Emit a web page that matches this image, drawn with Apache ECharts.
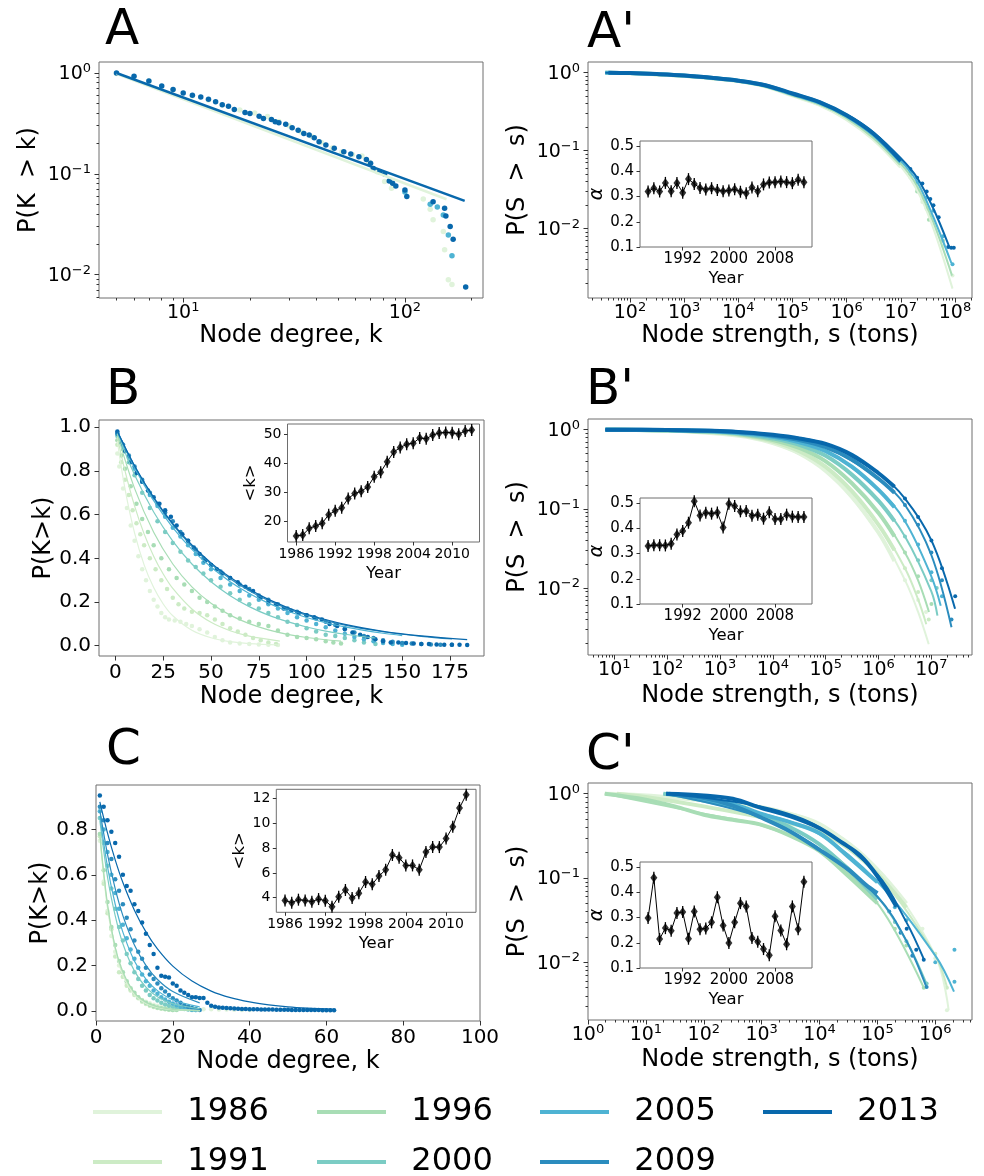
<!DOCTYPE html>
<html><head><meta charset="utf-8">
<script src="https://cdn.jsdelivr.net/npm/echarts@6/dist/echarts.min.js"></script>
<style>html,body{margin:0;padding:0;background:#fff}#c{width:984px;height:1176px}</style>
</head><body><div id="c"></div><script>
const FONT = 'DejaVu Sans';
const YEARS = ['1986','1991','1996','2000','2005','2009','2013'];
const COLORS = {'1986':'#e0f3db','1991':'#ccebc5','1996':'#a8ddb5','2000':'#7bccc4','2005':'#4eb3d3','2009':'#2b8cbe','2013':'#0868ac'};

// ---------- inset data ----------
const INSET_YEARS = [1986,1987,1988,1989,1990,1991,1992,1993,1994,1995,1996,1997,1998,1999,2000,2001,2002,2003,2004,2005,2006,2007,2008,2009,2010,2011,2012,2013];
const B_INSET_K = [15.1,15.4,17.7,18.5,19.5,22.4,23.8,24.8,28.0,29.7,30.5,32.0,35.5,37.1,40.7,44.0,45.6,46.7,47.1,48.9,48.6,49.9,50.6,50.8,50.7,50.2,51.3,51.6];
const C_INSET_K = [3.78,3.60,3.84,3.78,3.68,3.89,3.76,3.27,4.08,4.62,3.97,4.35,5.27,5.08,5.75,6.26,7.45,7.23,6.61,6.61,6.26,7.69,8.09,8.09,8.79,9.73,11.25,12.32];
const AP_ALPHA = [0.320,0.333,0.320,0.354,0.321,0.354,0.315,0.369,0.350,0.334,0.328,0.333,0.326,0.321,0.324,0.329,0.319,0.313,0.336,0.321,0.348,0.356,0.357,0.360,0.357,0.353,0.366,0.357];
const BP_ALPHA = [0.330,0.333,0.333,0.332,0.339,0.375,0.389,0.422,0.507,0.451,0.462,0.458,0.463,0.403,0.497,0.488,0.467,0.468,0.450,0.454,0.438,0.464,0.437,0.437,0.454,0.446,0.445,0.445];
const CP_ALPHA = [0.298,0.458,0.215,0.258,0.248,0.318,0.322,0.216,0.324,0.254,0.257,0.281,0.380,0.268,0.199,0.281,0.357,0.344,0.219,0.204,0.175,0.151,0.305,0.249,0.194,0.344,0.254,0.442];

// ---------- tick labels ----------
const A_XTICKS = [10,100];
const DEC_YTICKS = [0.01,0.1,1];
const AP_XTICKS = [1e2,1e3,1e4,1e5,1e6,1e7,1e8];
const BP_XTICKS = [1e1,1e2,1e3,1e4,1e5,1e6,1e7];
const CP_XTICKS = [1,1e1,1e2,1e3,1e4,1e5,1e6];
const B_XTICKS = [0,25,50,75,100,125,150,175];
const C_XTICKS = [0,20,40,60,80,100];
const P_YTICKS_B = [0,0.2,0.4,0.6,0.8,1.0];
const P_YTICKS_C = [0,0.2,0.4,0.6,0.8];
const B_INSET_YTICKS = [20,30,40,50];
const C_INSET_YTICKS = [4,6,8,10,12];
const K_INSET_XTICKS = [1986,1992,1998,2004,2010];
const ALPHA_YTICKS = [0.1,0.2,0.3,0.4,0.5];
const ALPHA_XTICKS = [1992,2000,2008];

// ---------- panel A ----------
const A_DOTS_1986 = [[5,0.99],[7,0.83],[9,0.68],[11,0.59],[13,0.54],[15,0.48],[18,0.43],[21,0.40],[24,0.37],[27,0.33],[30,0.30],[34,0.26],[38,0.235],[42,0.205],[47,0.18],[52,0.165],[58,0.155],[64,0.15],[69,0.13],[75,0.105],[81,0.084],[87,0.072],[121,0.0564],[130,0.0446],[134,0.035],[149,0.0268],[151,0.0177],[157,0.0089],[163,0.008]];
const A_DOTS_2005 = [[100,0.066],[130,0.05],[140,0.047],[149,0.039],[157,0.0248],[163,0.0154]];
const A_DOTS_2013 = [[5,1.0],[6,0.927],[7,0.834],[8,0.744],[9,0.684],[10,0.634],[11,0.601],[12,0.579],[13,0.549],[14,0.517],[15,0.483],[16,0.468],[17,0.434],[19,0.406],[20,0.396],[22,0.373],[23,0.354],[25,0.346],[26,0.328],[27,0.321],[29,0.311],[31,0.286],[33,0.271],[35,0.251],[37,0.242],[39,0.228],[41,0.208],[44,0.193],[48,0.179],[53,0.166],[57,0.157],[62,0.148],[67,0.139],[70,0.127],[72,0.113],[77,0.105],[81,0.0996],[85,0.085],[88,0.0805],[91,0.0759],[100,0.0692],[102,0.0595],[134,0.053],[151,0.0456],[153,0.0383],[160,0.030],[165,0.0225],[188,0.00755]];
const A_FIT_1986 = [[5,0.98],[154,0.056]];
const A_FIT_2013 = [[5,1.0],[186,0.054]];

// ---------- panel B ----------
const B_DOTS_1986 = [[1,0.88],[2,0.82],[4,0.72],[6,0.63],[8,0.55],[10,0.48],[12,0.41],[14,0.35],[16,0.30],[18,0.25],[20,0.21],[22,0.18],[24,0.15],[26,0.13],[28,0.12],[31,0.115],[34,0.11],[37,0.10],[40,0.09],[44,0.075],[48,0.06],[52,0.04],[56,0.025],[60,0.015],[65,0.01],[70,0.008],[75,0.006],[80,0.004],[85,0.003]];
const B_DOTS_1991 = [[1,0.92],[3,0.84],[5,0.76],[7,0.69],[9,0.62],[11,0.56],[13,0.51],[15,0.46],[18,0.40],[21,0.35],[24,0.30],[27,0.26],[30,0.22],[33,0.19],[36,0.17],[40,0.155],[44,0.15],[48,0.14],[52,0.12],[56,0.10],[60,0.08],[64,0.065],[68,0.05],[72,0.035],[76,0.025],[80,0.015],[84,0.008]];
const B_DOTS_1996 = [[1,0.94],[3,0.87],[5,0.81],[8,0.73],[11,0.65],[14,0.58],[17,0.52],[20,0.46],[24,0.40],[28,0.35],[32,0.31],[36,0.28],[40,0.25],[44,0.22],[48,0.20],[52,0.18],[56,0.16],[60,0.14],[65,0.125],[70,0.11],[75,0.10],[80,0.09],[85,0.07],[90,0.05],[95,0.04],[100,0.035],[105,0.03],[110,0.02],[114,0.015],[118,0.01]];
const B_DOTS_2000 = [[1,0.96],[4,0.90],[7,0.84],[10,0.78],[14,0.70],[18,0.63],[22,0.57],[26,0.52],[30,0.47],[34,0.43],[38,0.39],[42,0.36],[46,0.33],[50,0.30],[55,0.27],[60,0.24],[65,0.21],[70,0.19],[75,0.17],[80,0.15],[85,0.13],[90,0.11],[95,0.095],[100,0.08],[105,0.065],[110,0.05],[115,0.045],[120,0.035],[125,0.025],[130,0.015],[136,0.008]];
const B_DOTS_2005 = [[1,0.97],[4,0.91],[7,0.86],[10,0.81],[14,0.75],[18,0.69],[22,0.64],[26,0.59],[30,0.54],[34,0.50],[38,0.46],[42,0.42],[46,0.38],[50,0.35],[55,0.31],[60,0.28],[65,0.25],[70,0.23],[75,0.21],[80,0.19],[85,0.17],[90,0.15],[95,0.13],[100,0.115],[105,0.10],[110,0.085],[115,0.07],[120,0.055],[125,0.04],[130,0.03],[135,0.02],[140,0.012],[145,0.008],[150,0.004]];
const B_DOTS_2009 = [[1,0.97],[4,0.92],[7,0.87],[10,0.82],[14,0.76],[18,0.70],[22,0.65],[26,0.61],[30,0.57],[34,0.52],[38,0.48],[42,0.44],[46,0.40],[50,0.37],[55,0.34],[60,0.31],[65,0.28],[70,0.26],[75,0.23],[80,0.21],[85,0.19],[90,0.17],[95,0.155],[100,0.14],[105,0.125],[110,0.11],[115,0.095],[120,0.08],[125,0.06],[130,0.045],[135,0.035],[140,0.025],[145,0.018],[150,0.012],[155,0.01],[160,0.008],[165,0.006],[170,0.005],[176,0.004]];
const B_DOTS_2013 = [[1,0.98],[3,0.93],[5,0.89],[8,0.84],[11,0.79],[14,0.75],[17,0.71],[20,0.68],[23,0.65],[26,0.62],[29,0.59],[32,0.55],[35,0.51],[38,0.48],[41,0.45],[44,0.42],[47,0.39],[50,0.37],[53,0.35],[56,0.33],[60,0.31],[64,0.29],[68,0.27],[72,0.25],[76,0.22],[80,0.20],[84,0.19],[88,0.17],[92,0.16],[96,0.15],[100,0.14],[104,0.13],[108,0.12],[112,0.10],[116,0.09],[120,0.075],[124,0.06],[128,0.05],[132,0.04],[136,0.03],[140,0.02],[144,0.015],[148,0.015],[152,0.012],[156,0.01],[160,0.008],[164,0.008],[168,0.006],[172,0.005],[176,0.005],[180,0.004],[184,0.003]];
const B_FIT_1986 = [[1,0.936],[5,0.718],[10,0.516],[15,0.370],[20,0.266],[25,0.191],[30,0.137],[40,0.0707],[50,0.0365],[60,0.0188],[70,0.0097],[86,0.0034]];
const B_FIT_1991 = [[1,0.956],[5,0.80],[10,0.640],[15,0.512],[20,0.410],[25,0.328],[30,0.262],[40,0.168],[50,0.107],[60,0.0687],[70,0.044],[86,0.0215]];
const B_FIT_1996 = [[1,0.968],[10,0.720],[20,0.519],[30,0.374],[40,0.269],[50,0.194],[60,0.140],[70,0.101],[80,0.0726],[90,0.0523],[100,0.0377],[118,0.0209]];
const B_FIT_2000 = [[1,0.976],[10,0.782],[20,0.612],[30,0.479],[40,0.374],[50,0.293],[60,0.229],[70,0.179],[80,0.140],[90,0.110],[100,0.0857],[110,0.067],[120,0.0525],[136,0.0354]];
const B_FIT_2005 = [[1,0.980],[10,0.815],[20,0.664],[30,0.541],[40,0.441],[50,0.360],[60,0.293],[70,0.239],[80,0.195],[90,0.159],[100,0.129],[110,0.105],[120,0.086],[130,0.070],[140,0.057],[150,0.0466]];
const B_FIT_2009 = [[1,0.981],[10,0.821],[20,0.675],[30,0.554],[40,0.455],[50,0.374],[60,0.307],[70,0.252],[80,0.207],[90,0.170],[100,0.140],[120,0.094],[140,0.064],[160,0.043],[176,0.031]];
const B_FIT_2013 = [[1,0.981],[10,0.824],[20,0.679],[30,0.559],[40,0.461],[50,0.379],[60,0.313],[70,0.258],[80,0.212],[90,0.175],[100,0.144],[120,0.098],[140,0.066],[160,0.045],[184,0.028]];

// ---------- panel C ----------
const C_DOTS_1986 = [[1,0.75],[2,0.57],[3,0.44],[4,0.33],[5,0.26],[6,0.20],[7,0.15],[8,0.12],[9,0.095],[10,0.075],[11,0.06],[12,0.048],[13,0.04],[14,0.033],[15,0.027],[16,0.022],[17,0.018],[18,0.015],[19,0.013],[20,0.011],[22,0.01],[24,0.009],[26,0.008],[28,0.007],[30,0.007],[32,0.006],[34,0.006],[36,0.005],[38,0.004],[40,0.003]];
const C_DOTS_1991 = [[1,0.77],[2,0.56],[3,0.43],[4,0.36],[5,0.24],[6,0.17],[7,0.15],[8,0.11],[9,0.09],[10,0.07],[11,0.055],[12,0.04],[13,0.03],[14,0.022],[15,0.017],[16,0.012],[17,0.009],[18,0.007],[19,0.005],[20,0.004]];
const C_DOTS_1996 = [[1,0.78],[2,0.62],[3,0.48],[4,0.37],[5,0.29],[6,0.22],[7,0.17],[8,0.13],[9,0.10],[10,0.08],[11,0.06],[12,0.045],[13,0.035],[14,0.027],[15,0.02],[16,0.015],[17,0.011],[18,0.008],[19,0.006],[20,0.004],[21,0.003]];
const C_DOTS_2000 = [[1,0.85],[2,0.74],[3,0.64],[4,0.54],[5,0.45],[6,0.37],[7,0.31],[8,0.25],[9,0.21],[10,0.17],[11,0.14],[12,0.11],[13,0.09],[14,0.07],[15,0.055],[16,0.045],[17,0.035],[18,0.028],[19,0.022],[20,0.017],[21,0.013],[22,0.01],[23,0.008],[24,0.006],[25,0.004],[26,0.003]];
const C_DOTS_2005 = [[1,0.88],[2,0.80],[3,0.70],[4,0.60],[5,0.52],[6,0.45],[7,0.38],[8,0.32],[9,0.27],[10,0.23],[11,0.19],[12,0.16],[13,0.13],[14,0.11],[15,0.09],[16,0.075],[17,0.06],[18,0.05],[19,0.04],[20,0.032],[21,0.025],[22,0.018],[23,0.012],[24,0.008],[25,0.005],[26,0.003]];
const C_DOTS_2009 = [[1,0.90],[2,0.84],[3,0.74],[4,0.67],[5,0.58],[6,0.53],[7,0.47],[8,0.41],[9,0.36],[10,0.31],[11,0.26],[12,0.23],[13,0.19],[14,0.16],[15,0.14],[16,0.12],[17,0.10],[18,0.085],[19,0.07],[20,0.055],[21,0.045],[22,0.035],[23,0.025],[24,0.018],[25,0.012],[26,0.008],[27,0.004]];
const C_DOTS_2013 = [[1,0.95],[2,0.90],[3,0.84],[4,0.79],[5,0.74],[6,0.68],[7,0.60],[8,0.55],[9,0.53],[10,0.47],[11,0.44],[12,0.39],[13,0.34],[14,0.29],[15,0.25],[16,0.19],[17,0.155],[18,0.15],[19,0.147],[20,0.12],[21,0.11],[22,0.09],[23,0.08],[24,0.07],[25,0.06],[26,0.06],[27,0.057],[28,0.057],[29,0.035],[30,0.022],[31,0.018],[32,0.015],[33,0.013],[34,0.012],[35,0.011],[36,0.010],[37,0.009],[38,0.008],[39,0.008],[40,0.007],[41,0.007],[42,0.007],[43,0.006],[44,0.006],[45,0.006],[46,0.006],[47,0.005],[48,0.005],[49,0.005],[50,0.005],[51,0.004],[52,0.004],[53,0.004],[54,0.004],[55,0.003],[56,0.003],[57,0.003],[58,0.003],[59,0.002],[60,0.002],[61,0.002],[62,0.002]];
const C_FIT_1986 = [[1,0.77],[3,0.45],[5,0.27],[7,0.157],[10,0.071],[13,0.032],[16,0.0145],[20,0.005],[27,0.0008]];
const C_FIT_1991 = [[1,0.77],[3,0.46],[5,0.28],[7,0.165],[10,0.076],[13,0.035],[16,0.016],[20,0.006],[27,0.001]];
const C_FIT_1996 = [[1,0.78],[3,0.47],[5,0.28],[7,0.172],[10,0.08],[13,0.038],[16,0.018],[20,0.0065],[27,0.0011]];
const C_FIT_2000 = [[1,0.84],[3,0.59],[5,0.42],[7,0.296],[10,0.176],[13,0.104],[16,0.062],[20,0.031],[27,0.009]];
const C_FIT_2005 = [[1,0.86],[3,0.635],[5,0.47],[7,0.347],[10,0.22],[13,0.14],[16,0.089],[20,0.049],[27,0.017]];
const C_FIT_2009 = [[1,0.884],[3,0.69],[5,0.539],[7,0.42],[10,0.29],[13,0.20],[16,0.138],[20,0.085],[27,0.035]];
const C_FIT_2013 = [[1,0.922],[3,0.784],[5,0.666],[7,0.566],[10,0.444],[13,0.348],[16,0.273],[20,0.197],[25,0.131],[30,0.087],[35,0.058],[40,0.039],[45,0.026],[50,0.017],[55,0.0115],[62,0.0065]];

// ---------- panel A' ----------
const AP_EMP_1986 = [[35,1.0],[100,0.985],[316,0.95],[1e3,0.91],[3.16e3,0.85],[1e4,0.78],[3.16e4,0.67],[1e5,0.51],[3.16e5,0.39],[1e6,0.255],[3.16e6,0.14],[1e7,0.062]];
const AP_EMP_1996 = [[35,1.0],[100,0.987],[316,0.955],[1e3,0.915],[3.16e3,0.855],[1e4,0.785],[3.16e4,0.68],[1e5,0.525],[3.16e5,0.405],[1e6,0.27],[3.16e6,0.15],[1e7,0.067]];
const AP_EMP_2005 = [[35,1.0],[100,0.99],[316,0.958],[1e3,0.918],[3.16e3,0.858],[1e4,0.788],[3.16e4,0.685],[1e5,0.535],[3.16e5,0.415],[1e6,0.28],[3.16e6,0.16],[1e7,0.072]];
const AP_EMP_2013 = [[40,1.0],[100,0.99],[316,0.96],[1e3,0.92],[3.16e3,0.86],[1e4,0.79],[3.16e4,0.69],[1e5,0.54],[3.16e5,0.42],[1e6,0.285],[3.16e6,0.165],[1e7,0.074]];
const AP_TAIL_1986 = [[1.5e7,0.045],[2e7,0.032],[2.5e7,0.022],[3.5e7,0.015],[6e7,0.006],[9e7,0.0025]];
const AP_TAIL_1996 = [[1.5e7,0.05],[2e7,0.03],[2.5e7,0.024],[3e7,0.018],[3.3e7,0.013],[6e7,0.007]];
const AP_TAIL_2005 = [[1.5e7,0.055],[2e7,0.039],[3e7,0.025],[4e7,0.017],[6e7,0.008],[9e7,0.0035]];
const AP_TAIL_2013 = [[1.5e7,0.058],[2e7,0.045],[2.5e7,0.038],[3e7,0.03],[3.5e7,0.024],[4e7,0.02],[5e7,0.014],[7.5e7,0.0058],[8.5e7,0.0057],[9.5e7,0.0057]];
const AP_FIT_1986 = [[35,1.0],[1e3,0.91],[1e4,0.775],[1e5,0.515],[1e6,0.26],[3.16e6,0.142],[1e7,0.063],[2e7,0.031],[4e7,0.010],[9e7,0.0017]];
const AP_FIT_1996 = [[35,1.0],[1e3,0.915],[1e4,0.78],[1e5,0.525],[1e6,0.27],[3.16e6,0.15],[1e7,0.068],[2e7,0.035],[4e7,0.012],[8.8e7,0.0025]];
const AP_FIT_2005 = [[35,1.0],[1e3,0.92],[1e4,0.785],[1e5,0.535],[1e6,0.28],[3.16e6,0.16],[1e7,0.074],[2e7,0.040],[4e7,0.014],[8.6e7,0.0036]];
const AP_FIT_2013 = [[35,1.0],[1e3,0.925],[1e4,0.79],[1e5,0.545],[1e6,0.29],[3.16e6,0.17],[1e7,0.08],[2e7,0.045],[4e7,0.018],[7.8e7,0.0059]];

// ---------- panel B' ----------
const BP_EMP_1986 = [[6.8,1],[10,1],[100,0.977],[1e3,0.891],[3.16e3,0.813],[1e4,0.676],[3.16e4,0.501],[1e5,0.302],[3.16e5,0.141],[1e6,0.050],[2e6,0.022]];
const BP_EMP_1991 = [[6.8,1],[10,1],[100,0.977],[1e3,0.912],[3.16e3,0.832],[1e4,0.708],[3.16e4,0.537],[1e5,0.339],[3.16e5,0.166],[1e6,0.063],[2e6,0.03]];
const BP_EMP_1996 = [[6.8,1],[10,1],[100,0.977],[1e3,0.923],[3.16e3,0.851],[1e4,0.741],[3.16e4,0.589],[1e5,0.398],[3.16e5,0.209],[1e6,0.089],[2e6,0.045]];
const BP_EMP_2000 = [[6.8,1],[10,1],[100,0.977],[1e3,0.933],[3.16e3,0.871],[1e4,0.776],[3.16e4,0.646],[1e5,0.468],[3.16e5,0.269],[1e6,0.126],[2e6,0.07]];
const BP_EMP_2005 = [[6.8,1],[10,1],[100,0.989],[1e3,0.944],[3.16e3,0.891],[1e4,0.813],[3.16e4,0.692],[1e5,0.537],[3.16e5,0.339],[1e6,0.174],[2e6,0.105]];
const BP_EMP_2009 = [[6.8,1],[10,1],[100,0.989],[1e3,0.955],[3.16e3,0.912],[1e4,0.841],[3.16e4,0.741],[1e5,0.603],[3.16e5,0.417],[1e6,0.240],[2e6,0.16]];
const BP_EMP_2013 = [[6.8,1],[10,1],[100,0.989],[1e3,0.966],[3.16e3,0.923],[1e4,0.861],[3.16e4,0.776],[1e5,0.661],[3.16e5,0.479],[1e6,0.282],[2e6,0.19]];
const BP_TAIL_1986 = [[3.16e6,0.0126],[5.6e6,0.0071],[7.9e6,0.005]];
const BP_TAIL_1991 = [[3.16e6,0.0178],[5.6e6,0.0089],[8.9e6,0.004]];
const BP_TAIL_1996 = [[3.16e6,0.0282],[5.6e6,0.0141],[1e7,0.0063]];
const BP_TAIL_2000 = [[3.16e6,0.0447],[5.6e6,0.0224],[1e7,0.0126],[1.26e7,0.01]];
const BP_TAIL_2005 = [[3.16e6,0.0708],[5.6e6,0.0355],[1e7,0.0158],[1.585e7,0.0079]];
const BP_TAIL_2009 = [[3.16e6,0.112],[5.6e6,0.063],[1e7,0.0282],[1.585e7,0.0126],[2.4e7,0.004]];
const BP_TAIL_2013 = [[3.16e6,0.135],[5.6e6,0.079],[1e7,0.04],[1.585e7,0.0178],[2.82e7,0.0079]];
const BP_FIT_1986 = [[6.8,1],[1e3,0.89],[1e4,0.676],[1e5,0.30],[1e6,0.05],[3.16e6,0.0126],[5.6e6,0.005],[8.9e6,0.00195]];
const BP_FIT_1991 = [[6.8,1],[1e3,0.91],[1e4,0.708],[1e5,0.339],[1e6,0.063],[3.16e6,0.0178],[5.6e6,0.0072],[8.0e6,0.0035]];
const BP_FIT_1996 = [[6.8,1],[1e3,0.92],[1e4,0.741],[1e5,0.398],[1e6,0.089],[3.16e6,0.028],[5.6e6,0.0125],[9e6,0.005]];
const BP_FIT_2000 = [[6.8,1],[1e3,0.93],[1e4,0.776],[1e5,0.468],[1e6,0.126],[3.16e6,0.0447],[1e7,0.009],[1.3e7,0.0045]];
const BP_FIT_2005 = [[6.8,1],[1e3,0.94],[1e4,0.813],[1e5,0.537],[1e6,0.174],[3.16e6,0.07],[1e7,0.014],[1.5e7,0.006]];
const BP_FIT_2009 = [[6.8,1],[1e3,0.955],[1e4,0.841],[1e5,0.603],[1e6,0.240],[3.16e6,0.112],[1e7,0.026],[2.4e7,0.0032]];
const BP_FIT_2013 = [[6.8,1],[1e3,0.966],[1e4,0.861],[1e5,0.661],[1e6,0.282],[3.16e6,0.135],[1e7,0.04],[2.8e7,0.0055]];

// ---------- panel C' ----------
const CP_EMP_1986 = [[1.95,1],[10,0.955],[100,0.832],[316,0.759],[1e3,0.692],[3.16e3,0.575],[1e4,0.437],[3.16e4,0.251],[1e5,0.126],[3.16e5,0.050]];
const CP_EMP_1991 = [[3.16,1],[10,0.912],[100,0.708],[1e3,0.525],[3.16e3,0.447],[1e4,0.355],[3.16e4,0.224],[1e5,0.112],[3.16e5,0.0447]];
const CP_EMP_1996 = [[1.95,1],[10,0.851],[31.6,0.708],[100,0.562],[316,0.490],[1e3,0.427],[3.16e3,0.316],[1e4,0.209],[3.16e4,0.105],[1e5,0.050]];
const CP_EMP_2000 = [[20,1],[100,0.871],[316,0.708],[1e3,0.537],[3.16e3,0.398],[1e4,0.251],[3.16e4,0.126],[1e5,0.056]];
const CP_EMP_2005 = [[25,1],[100,0.891],[316,0.759],[1e3,0.575],[3.16e3,0.457],[1e4,0.339],[3.16e4,0.178],[1e5,0.089]];
const CP_EMP_2009 = [[22.4,1],[100,0.891],[316,0.724],[1e3,0.519],[3.16e3,0.355],[1e4,0.216],[3.16e4,0.126],[6.31e4,0.083],[1e5,0.066]];
const CP_EMP_2013 = [[22.4,1],[100,0.955],[316,0.871],[1e3,0.676],[3.16e3,0.537],[1e4,0.389],[2.51e4,0.26],[5e4,0.186],[1e5,0.105],[2.14e5,0.0457]];
const CP_TAIL_1986 = [[6e5,0.025],[1e6,0.0112],[1.585e6,0.0027]];
const CP_TAIL_1991 = [[1e6,0.0126],[1.585e6,0.005]];
const CP_TAIL_1996 = [[2e5,0.025],[3.16e5,0.0158],[6.31e5,0.005]];
const CP_TAIL_2000 = [[2e5,0.03],[3.16e5,0.0178],[7.08e5,0.0056]];
const CP_TAIL_2005 = [[2e5,0.045],[3.16e5,0.0316],[1e6,0.01],[2.14e6,0.0141],[2.14e6,0.0059]];
const CP_TAIL_2009 = [[1.6e5,0.04],[2.51e5,0.0224],[4e5,0.012],[7.08e5,0.0051]];
const CP_TAIL_2013 = [[3.2e5,0.025],[4.68e5,0.0141],[6.31e5,0.0107]];
const CP_FIT_1986 = [[1.95,1],[100,0.83],[1e3,0.69],[1e4,0.44],[1e5,0.13],[1e6,0.012],[1.7e6,0.0027]];
const CP_FIT_1991 = [[3.16,1],[100,0.71],[1e3,0.53],[1e4,0.355],[1e5,0.11],[1e6,0.012],[1.6e6,0.005]];
const CP_FIT_1996 = [[1.95,1],[100,0.58],[1e3,0.42],[1e4,0.21],[1e5,0.05],[6.31e5,0.005]];
const CP_FIT_2000 = [[20,1],[1e3,0.54],[1e4,0.25],[1e5,0.06],[3.16e5,0.018],[7.08e5,0.0055]];
const CP_FIT_2005 = [[25,1],[1e3,0.58],[1e4,0.33],[1e5,0.09],[1e6,0.012],[2.1e6,0.0045]];
const CP_FIT_2009 = [[22.4,1],[1e3,0.52],[1e4,0.22],[1e5,0.06],[3.16e5,0.018],[7.08e5,0.005]];
const CP_FIT_2013 = [[22.4,1],[1e3,0.70],[1e4,0.40],[1e5,0.11],[3.16e5,0.03],[6.3e5,0.011]];

// ================= builders =================
const grids = [], xAxes = [], yAxes = [], series = [];
function addGrid(g, inset){
  grids.push(Object.assign({show:true, borderColor:'#6e6e6e', borderWidth:1, backgroundColor: inset ? '#fff' : 'transparent', containLabel:false, z: inset ? 3 : 0}, g));
  return grids.length - 1;
}
const LOGRICH = {
  b:{fontSize:19, fontFamily:FONT, color:'#000', padding:[3,0,0,0]},
  s:{fontSize:13, fontFamily:FONT, color:'#000', verticalAlign:'top'}
};
function fmtPow(v){ const e = Math.round(Math.log10(v)); return '{b|10}{s|' + String(e).replace('-', '\u2212') + '}'; }
function fmt1(v){ return Number(v).toFixed(1); }
function fmt0(v){ return String(Math.round(v)); }
function minorLogs(lo, hi){
  const out = [];
  for (let e = Math.floor(Math.log10(lo)); e <= Math.ceil(Math.log10(hi)); e++) {
    for (let m = 2; m <= 9; m++) { const v = +(m * Math.pow(10, e)).toPrecision(6); if (v >= lo && v <= hi) out.push(v); }
  }
  return out;
}
function mkAxis(gi, o){
  return {
    type:o.type, gridIndex:gi, min:o.min, max:o.max, position:o.pos, logBase:10,
    axisLine:{show:false, onZero:false},
    splitLine:{show:false}, splitArea:{show:false}, minorTick:{show:false}, minorSplitLine:{show:false},
    axisTick:{show:true, inside:false, length:o.tl, lineStyle:{color:'#333', width:1}, customValues:o.ticks},
    axisLabel:{show:!!o.fmt, customValues:o.ticks, formatter:o.fmt, margin:o.margin||0, fontSize:o.fs||20, fontFamily:FONT, color:'#000', rich:o.rich, showMinLabel:true, showMaxLabel:true, hideOverlap:false},
    name:o.name || '', nameLocation:'middle', nameGap:o.gap || 0,
    nameTextStyle:{fontSize:o.nfs || 24, fontFamily:FONT, color:'#000', fontStyle:o.nstyle || 'normal'},
    silent:true, z: o.z || 0
  };
}
function addX(gi, o){ xAxes.push(mkAxis(gi, Object.assign({pos:'bottom'}, o))); return xAxes.length - 1; }
function addY(gi, o){ yAxes.push(mkAxis(gi, Object.assign({pos:'left'}, o))); return yAxes.length - 1; }
function logAxes(gi, xr, yr, xt, yt, xName, yName, xGap, yGap){
  const xi = addX(gi, {type:'log', min:xr[0], max:xr[1], ticks:xt, fmt:fmtPow, rich:LOGRICH, fs:19, margin:3, tl:4.5, name:xName, gap:xGap});
  addX(gi, {type:'log', min:xr[0], max:xr[1], ticks:minorLogs(xr[0], xr[1]), tl:2.5});
  const yi = addY(gi, {type:'log', min:yr[0], max:yr[1], ticks:yt, fmt:fmtPow, rich:LOGRICH, fs:19, margin:8, tl:4.5, name:yName, gap:yGap});
  addY(gi, {type:'log', min:yr[0], max:yr[1], ticks:minorLogs(yr[0], yr[1]), tl:2.5});
  return [xi, yi];
}
function scat(name, ax, data, size){
  series.push({type:'scatter', name, xAxisIndex:ax[0], yAxisIndex:ax[1], data, symbolSize:size, itemStyle:{color:COLORS[name], opacity:1}, silent:true, z:2, animation:false});
}
function line(name, ax, data, w, smooth, sym){
  series.push({type:'line', name, xAxisIndex:ax[0], yAxisIndex:ax[1], data, smooth: smooth ? 0.35 : false,
    showSymbol: !!sym, symbol: sym ? 'circle' : 'none', symbolSize: sym || 0,
    lineStyle:{color:COLORS[name], width:w}, itemStyle:{color:COLORS[name]}, z:3, silent:true, animation:false});
}
function inset(gi, xr, yr, xt, yt, xfmt, yfmt, yName, yNameSize, yGap, fs, vals, italic){
  const xi = addX(gi, {type:'value', min:xr[0], max:xr[1], ticks:xt, fmt:xfmt, fs:fs, margin:5, tl:3.5, name:'Year', nfs:16.5, gap:23, z:5});
  const yi = addY(gi, {type:'value', min:yr[0], max:yr[1], ticks:yt, fmt:yfmt, fs:fs, margin:6, tl:3.5, name:yName, nfs:yNameSize, gap:yGap, z:5, nstyle: italic ? 'italic' : 'normal'});
  const data = INSET_YEARS.map((y, i) => [y, vals[i]]);
  series.push({type:'line', xAxisIndex:xi, yAxisIndex:yi, data, symbol:'rect', symbolSize:[1.3,12], showSymbol:true,
    lineStyle:{color:'#000', width:1}, itemStyle:{color:'#000'}, z:10, silent:true, animation:false});
  series.push({type:'scatter', xAxisIndex:xi, yAxisIndex:yi, data, symbol:'diamond', symbolSize:[7,9.5],
    itemStyle:{color:'#000'}, z:11, silent:true, animation:false});
}

// ---------- Panel A ----------
const gA = addGrid({left:99, top:62, width:384, height:236});
const axA = logAxes(gA, [4.17,225], [0.00588,1.284], A_XTICKS, DEC_YTICKS, 'Node degree, k', 'P(K  > k)', 24, 58);
scat('1986', axA, A_DOTS_1986, 5.5);
line('1986', axA, A_FIT_1986, 2.5);
scat('2005', axA, A_DOTS_2005, 5.5);
scat('2013', axA, A_DOTS_2013, 5.5);
line('2013', axA, A_FIT_2013, 2.5);

// ---------- Panel A' ----------
const gAP = addGrid({left:588, top:62, width:384, height:236});
const axAP = logAxes(gAP, [16.8,2.06e8], [0.00129,1.37], AP_XTICKS, DEC_YTICKS, 'Node strength, s (tons)', 'P(S  >  s)', 24, 58);
[['1986',AP_EMP_1986,AP_TAIL_1986,AP_FIT_1986],['1996',AP_EMP_1996,AP_TAIL_1996,AP_FIT_1996],['2005',AP_EMP_2005,AP_TAIL_2005,AP_FIT_2005],['2013',AP_EMP_2013,AP_TAIL_2013,AP_FIT_2013]].forEach(r => {
  line(r[0], axAP, r[1], 4, true); scat(r[0], axAP, r[2], 4); line(r[0], axAP, r[3], 2, true);
});
const gAPi = addGrid({left:640, top:141, width:172, height:106}, true);
inset(gAPi, [1984.6,2014.4], [0.1,0.52], ALPHA_XTICKS, ALPHA_YTICKS, fmt0, fmt1, '\u03b1', 19, 33, 15, AP_ALPHA, true);

// ---------- Panel B ----------
const gB = addGrid({left:99, top:420, width:385, height:236});
const xB = addX(gB, {type:'value', min:-8.6, max:192.8, ticks:B_XTICKS, fmt:fmt0, fs:20, margin:7, tl:4.5, name:'Node degree, k', gap:29});
const yB = addY(gB, {type:'value', min:-0.047, max:1.033, ticks:P_YTICKS_B, fmt:fmt1, fs:20, margin:8, tl:4.5, name:'P(K>k)', gap:41});
const axB = [xB, yB];
[['1986',B_DOTS_1986,B_FIT_1986],['1991',B_DOTS_1991,B_FIT_1991],['1996',B_DOTS_1996,B_FIT_1996],['2000',B_DOTS_2000,B_FIT_2000],['2005',B_DOTS_2005,B_FIT_2005],['2009',B_DOTS_2009,B_FIT_2009],['2013',B_DOTS_2013,B_FIT_2013]].forEach(r => {
  scat(r[0], axB, r[1], 4.5); line(r[0], axB, r[2], 1.2, true);
});
const gBi = addGrid({left:287.5, top:424, width:192, height:118}, true);
inset(gBi, [1984.66,2014.2], [13.0,53.7], K_INSET_XTICKS, B_INSET_YTICKS, fmt0, fmt0, '<k>', 16.5, 28, 14, B_INSET_K);

// ---------- Panel B' ----------
const gBP = addGrid({left:588, top:419, width:384, height:236});
const axBP = logAxes(gBP, [3.18,5.86e7], [0.00143,1.365], BP_XTICKS, DEC_YTICKS, 'Node strength, s (tons)', 'P(S  >  s)', 29, 58);
[['1986',BP_EMP_1986,BP_TAIL_1986,BP_FIT_1986],['1991',BP_EMP_1991,BP_TAIL_1991,BP_FIT_1991],['1996',BP_EMP_1996,BP_TAIL_1996,BP_FIT_1996],['2000',BP_EMP_2000,BP_TAIL_2000,BP_FIT_2000],['2005',BP_EMP_2005,BP_TAIL_2005,BP_FIT_2005],['2009',BP_EMP_2009,BP_TAIL_2009,BP_FIT_2009],['2013',BP_EMP_2013,BP_TAIL_2013,BP_FIT_2013]].forEach(r => {
  line(r[0], axBP, r[1], 4, true); scat(r[0], axBP, r[2], 4); line(r[0], axBP, r[3], 2, true);
});
const gBPi = addGrid({left:640, top:498, width:172, height:106}, true);
inset(gBPi, [1984.6,2014.4], [0.1,0.52], ALPHA_XTICKS, ALPHA_YTICKS, fmt0, fmt1, '\u03b1', 19, 33, 15, BP_ALPHA, true);

// ---------- Panel C ----------
const gC = addGrid({left:96, top:785, width:384, height:236});
const xC = addX(gC, {type:'value', min:0, max:100, ticks:C_XTICKS, fmt:fmt0, fs:20, margin:7, tl:4.5, name:'Node degree, k', gap:29});
const yC = addY(gC, {type:'value', min:-0.045, max:0.996, ticks:P_YTICKS_C, fmt:fmt1, fs:20, margin:8, tl:4.5, name:'P(K>k)', gap:42});
const axC = [xC, yC];
[['1986',C_DOTS_1986,C_FIT_1986],['1991',C_DOTS_1991,C_FIT_1991],['1996',C_DOTS_1996,C_FIT_1996],['2000',C_DOTS_2000,C_FIT_2000],['2005',C_DOTS_2005,C_FIT_2005],['2009',C_DOTS_2009,C_FIT_2009],['2013',C_DOTS_2013,C_FIT_2013]].forEach(r => {
  scat(r[0], axC, r[1], 4.5); line(r[0], axC, r[2], 1.2, true);
});
const gCi = addGrid({left:276.3, top:789.3, width:199.7, height:123}, true);
inset(gCi, [1984.7,2014.46], [2.82,12.76], K_INSET_XTICKS, C_INSET_YTICKS, fmt0, fmt0, '<k>', 16.5, 28, 14, C_INSET_K);

// ---------- Panel C' ----------
const gCP = addGrid({left:588, top:783, width:384, height:237});
const axCP = logAxes(gCP, [1,4.3e6], [0.00207,1.34], CP_XTICKS, DEC_YTICKS, 'Node strength, s (tons)', 'P(S  >  s)', 28, 58);
[['1986',CP_EMP_1986,CP_TAIL_1986,CP_FIT_1986],['1991',CP_EMP_1991,CP_TAIL_1991,CP_FIT_1991],['1996',CP_EMP_1996,CP_TAIL_1996,CP_FIT_1996],['2000',CP_EMP_2000,CP_TAIL_2000,CP_FIT_2000],['2005',CP_EMP_2005,CP_TAIL_2005,CP_FIT_2005],['2009',CP_EMP_2009,CP_TAIL_2009,CP_FIT_2009],['2013',CP_EMP_2013,CP_TAIL_2013,CP_FIT_2013]].forEach(r => {
  line(r[0], axCP, r[1], 4, true); scat(r[0], axCP, r[2], 4); line(r[0], axCP, r[3], 2, true);
});
const gCPi = addGrid({left:640, top:862, width:172, height:106}, true);
inset(gCPi, [1984.6,2014.4], [0.1,0.52], ALPHA_XTICKS, ALPHA_YTICKS, fmt0, fmt1, '\u03b1', 19, 33, 15, CP_ALPHA, true);

// ---------- titles & legend ----------
const TITLES = [['A',105,6.5],["A'",587,9.5],['B',106,366.5],["B'",586,366.5],['C',106,726.5],["C'",586,731.5]];
const LEG_POS = [[93,1096],[93,1146],[317,1096],[317,1146],[540,1096],[540,1146],[763,1096]];

const chart = echarts.init(document.getElementById('c'), null, {renderer:'canvas', width:984, height:1176});
chart.setOption({
  animation:false,
  backgroundColor:'#fff',
  textStyle:{fontFamily:FONT},
  title: TITLES.map(t => ({text:t[0], left:t[1], top:t[2], padding:0, textStyle:{fontSize:50, fontWeight:'normal', fontFamily:FONT, color:'#000'}})),
  legend: YEARS.map((y, i) => ({
    data:[{name:y, itemStyle:{color:COLORS[y]}}], left:LEG_POS[i][0], top:LEG_POS[i][1], padding:0,
    icon:'rect', itemWidth:69, itemHeight:4, selectedMode:false, formatter:'  {name}',
    textStyle:{fontSize:32, fontFamily:FONT, color:'#000'}
  })),
  grid: grids, xAxis: xAxes, yAxis: yAxes, series: series
});
</script></body></html>
